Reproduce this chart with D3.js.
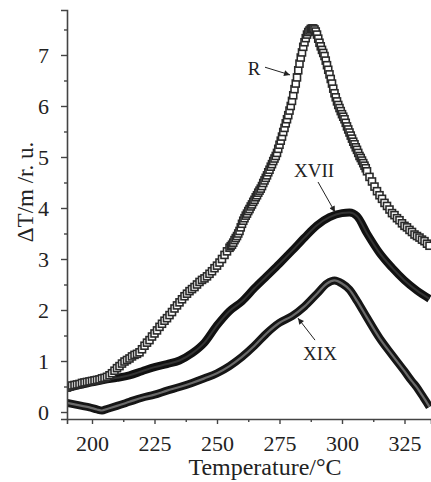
<!DOCTYPE html>
<html>
<head>
<meta charset="utf-8">
<script src="https://cdn.jsdelivr.net/npm/d3@7"></script>
<style>
  body { margin: 0; background: #fff; }
  svg text { font-family: "Liberation Serif", "Times New Roman", Times, serif; fill: #222; }
</style>
</head>
<body>
<svg id="chart"></svg>
<script>
// R: readings every degree, every half degree on the steep peak (255..309.5 °C)
const rTemp = d3.range(190, 255).concat(d3.range(255, 310, 0.5), d3.range(310, 336));
const rVal = [
  // 190..254
  0.48, 0.50, 0.52, 0.53, 0.54, 0.55, 0.57, 0.58, 0.59, 0.60,
  0.61, 0.62, 0.63, 0.64, 0.66, 0.67, 0.69, 0.72, 0.76, 0.81,
  0.86, 0.90, 0.95, 0.99, 1.02, 1.05, 1.09, 1.12, 1.14, 1.17,
  1.23, 1.30, 1.36, 1.41, 1.48, 1.54, 1.60, 1.67, 1.73, 1.79,
  1.84, 1.90, 1.96, 2.03, 2.09, 2.15, 2.21, 2.27, 2.32, 2.37,
  2.41, 2.45, 2.50, 2.55, 2.59, 2.62, 2.66, 2.71, 2.76, 2.82,
  2.87, 2.93, 3.00, 3.08, 3.15,
  // 255..309.5
  3.22, 3.25, 3.28, 3.32, 3.37, 3.41, 3.45, 3.50, 3.55, 3.62,
  3.69, 3.75, 3.80, 3.85, 3.89, 3.94, 3.98, 4.03, 4.07, 4.12,
  4.16, 4.21, 4.25, 4.30, 4.34, 4.38, 4.43, 4.49, 4.54, 4.59,
  4.64, 4.70, 4.75, 4.81, 4.86, 4.92, 4.97, 5.02, 5.08, 5.16,
  5.24, 5.32, 5.40, 5.49, 5.57, 5.66, 5.74, 5.82, 5.91, 6.00,
  6.10, 6.21, 6.33, 6.44, 6.56, 6.70, 6.83, 6.95, 7.05, 7.16,
  7.25, 7.33, 7.40, 7.45, 7.48, 7.51, 7.52, 7.52, 7.50, 7.46,
  7.40, 7.32, 7.24, 7.17, 7.10, 7.04, 6.98, 6.89, 6.80, 6.71,
  6.62, 6.53, 6.44, 6.34, 6.25, 6.17, 6.09, 6.02, 5.96, 5.90,
  5.84, 5.79, 5.74, 5.67, 5.60, 5.54, 5.48, 5.42, 5.36, 5.30,
  5.25, 5.19, 5.14, 5.08, 5.02, 4.98, 4.93, 4.88, 4.83, 4.78,
  // 310..335
  4.72, 4.61, 4.52, 4.42, 4.33, 4.25, 4.18, 4.10, 4.04, 3.97,
  3.90, 3.86, 3.80, 3.76, 3.70, 3.65, 3.62, 3.57, 3.53, 3.48,
  3.45, 3.42, 3.38, 3.35, 3.30, 3.26
];

const xviiTemp = [190, 195, 200, 205, 210, 215, 220, 225, 230, 235, 240, 245, 250, 255, 260,
  265, 270, 275, 280, 285, 290, 295, 300, 303, 306, 310, 315, 320, 325, 330, 335];
const xviiVal = [0.47, 0.53, 0.58, 0.63, 0.67, 0.72, 0.80, 0.88, 0.94, 1.01, 1.15, 1.36, 1.70, 1.98, 2.17,
  2.43, 2.67, 2.91, 3.16, 3.42, 3.66, 3.82, 3.90, 3.91, 3.84, 3.50, 3.12, 2.83, 2.58, 2.38, 2.22];

const xixTemp = [190, 193, 196, 199, 202, 204, 206, 210, 215, 220, 225, 230, 235, 240, 245, 250,
  255, 260, 265, 270, 275, 280, 285, 290, 294, 297, 300, 303, 306, 310, 315, 320, 325, 328,
  330, 332, 334, 335];
const xixVal = [0.18, 0.15, 0.12, 0.09, 0.05, 0.03, 0.06, 0.12, 0.20, 0.28, 0.34, 0.42, 0.49, 0.57, 0.66, 0.76,
  0.90, 1.08, 1.30, 1.55, 1.75, 1.88, 2.07, 2.32, 2.52, 2.58, 2.52, 2.40, 2.18, 1.85, 1.45, 1.12, 0.80, 0.60,
  0.48, 0.33, 0.18, 0.10];

const xTicks = [200, 225, 250, 275, 300, 325];
const yTicks = [0, 1, 2, 3, 4, 5, 6, 7];

// labels with arrows: text position, arrow start, arrow end (data units)
const notes = [
  { text: "R", t: 264.8, v: 6.61, from: [269.2, 6.76], to: [279.2, 6.61] },
  { text: "XVII", t: 288.8, v: 4.61, from: [290.4, 4.51], to: [297.2, 3.92] },
  { text: "XIX", t: 291.2, v: 1.02, from: [289.2, 1.41], to: [282.4, 1.84] }
];

const serif = "'Liberation Serif', 'Times New Roman', Times, serif";

const margin = { top: 10, right: 0, bottom: 63, left: 67 };
const width = 431 - margin.left - margin.right;
const height = 482 - margin.top - margin.bottom;

const root = d3.select("#chart")
  .attr("width", 431)
  .attr("height", 482);

const defs = root.append("defs");
defs.append("marker")
  .attr("id", "arrow")
  .attr("viewBox", "0 0 10 10")
  .attr("refX", 10)
  .attr("refY", 5)
  .attr("markerWidth", 8)
  .attr("markerHeight", 6)
  .attr("markerUnits", "userSpaceOnUse")
  .attr("orient", "auto")
  .append("path")
  .attr("d", "M0,0 L10,5 L0,10 z")
  .attr("fill", "#222");

defs.append("clipPath").attr("id", "plot-clip")
  .append("rect").attr("width", width).attr("height", height);

const svg = root.append("g")
  .attr("transform", "translate(" + margin.left + "," + margin.top + ")");

const x = d3.scaleLinear().domain([190, 335.6]).range([0, width]);
const y = d3.scaleLinear().domain([-0.137, 7.882]).range([height, 0]);

const line = d3.line()
  .x(d => x(d[0]))
  .y(d => y(d[1]))
  .curve(d3.curveMonotoneX);

const plot = svg.append("g").attr("clip-path", "url(#plot-clip)");

// XIX and XVII drawn as thick dark tubes
const xix = xixTemp.map((t, i) => [t, xixVal[i]]);
const xvii = xviiTemp.map((t, i) => [t, xviiVal[i]]);

plot.append("path").datum(xix)
  .attr("fill", "none").attr("stroke", "#151515").attr("stroke-width", 8)
  .attr("stroke-linejoin", "round").attr("d", line);
plot.append("path").datum(xix)
  .attr("fill", "none").attr("stroke", "#6a6a6a").attr("stroke-width", 2.2)
  .attr("d", line);

plot.append("path").datum(xvii)
  .attr("fill", "none").attr("stroke", "#111").attr("stroke-width", 8)
  .attr("stroke-linejoin", "round").attr("d", line);
plot.append("path").datum(xvii)
  .attr("fill", "none").attr("stroke", "#333").attr("stroke-width", 2)
  .attr("d", line);

// R: open squares
const rData = rTemp.map((t, i) => [t, rVal[i]]);
plot.selectAll(".sq")
  .data(rData)
  .enter().append("rect")
  .attr("class", "sq")
  .attr("x", d => x(d[0]) - 3.5)
  .attr("y", d => y(d[1]) - 3.5)
  .attr("width", 7)
  .attr("height", 7)
  .attr("fill", "#fff")
  .attr("stroke", "#2a2a2a")
  .attr("stroke-width", 1.6);

// axes
const axisColor = "#444";
const xMinor = [212.5, 237.5, 262.5, 287.5, 312.5];
const yMinor = [0.5, 1.5, 2.5, 3.5, 4.5, 5.5, 6.5, 7.5];

svg.append("g")
  .attr("transform", "translate(0," + height + ")")
  .call(d3.axisBottom(x).tickValues(xTicks).tickSize(5).tickPadding(11).tickFormat(d3.format("d")));
svg.append("g")
  .attr("transform", "translate(0," + height + ")")
  .call(d3.axisBottom(x).tickValues(xMinor).tickSize(3).tickFormat(""))
  .call(g => g.select(".domain").remove());

svg.append("g")
  .call(d3.axisLeft(y).tickValues(yTicks).tickSize(6).tickPadding(12).tickFormat(d3.format("d")));
svg.append("g")
  .call(d3.axisLeft(y).tickValues(yMinor).tickSize(3).tickFormat(""))
  .call(g => g.select(".domain").remove());

svg.selectAll(".domain").attr("stroke", axisColor).attr("stroke-width", 1.6);
svg.selectAll(".tick line").attr("stroke", axisColor).attr("stroke-width", 1.4);
svg.selectAll("g").attr("font-family", serif);
svg.selectAll(".tick text")
  .style("font-family", serif)
  .style("font-size", "22px")
  .attr("fill", "#222");

// axis titles
svg.append("text")
  .attr("x", 198)
  .attr("y", 465)
  .attr("text-anchor", "middle")
  .style("font-family", serif)
  .style("font-size", "24px")
  .text("Temperature/°C");

svg.append("text")
  .attr("transform", "translate(-34," + 182 + ") rotate(-90)")
  .attr("text-anchor", "middle")
  .style("font-family", serif)
  .style("font-size", "23px")
  .text("ΔT/m /r. u.");

// annotations
const ann = svg.append("g");
notes.forEach(n => {
  ann.append("text")
    .attr("x", x(n.t))
    .attr("y", y(n.v))
    .attr("text-anchor", "middle")
    .style("font-family", serif)
    .style("font-size", "19px")
    .text(n.text);
  ann.append("line")
    .attr("x1", x(n.from[0])).attr("y1", y(n.from[1]))
    .attr("x2", x(n.to[0])).attr("y2", y(n.to[1]))
    .attr("stroke", "#222")
    .attr("stroke-width", 1)
    .attr("marker-end", "url(#arrow)");
});
</script>
</body>
</html>
